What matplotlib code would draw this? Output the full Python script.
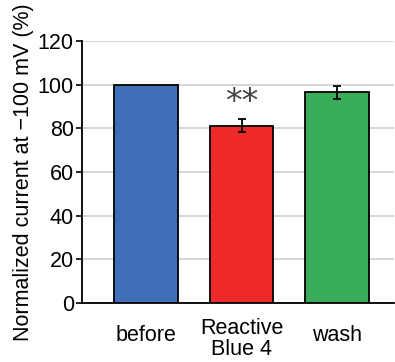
import matplotlib.pyplot as plt
import matplotlib.transforms as mtransforms
import numpy as np

plt.rcParams['font.family'] = ['Liberation Sans', 'DejaVu Sans']

# data
conditions = ['before', 'Reactive\nBlue 4', 'wash']
values = [100, 81.2, 96.5]
errors = [0, 3.0, 3.0]
colors = ['#3f6fb8', '#ee2a2a', '#3aad5a']

fig = plt.figure(figsize=(3.95, 3.62), dpi=100)
ax = fig.add_axes([0.208, 0.163, 0.79, 0.724])

x = np.arange(len(conditions))
ax.bar(x, values, width=0.667, color=colors, edgecolor='black', linewidth=1.3, zorder=3)
for xi, v, e in zip(x, values, errors):
    if e > 0:
        ax.errorbar(xi, v, yerr=e, fmt='none', ecolor='black', elinewidth=1.3,
                    capsize=3, capthick=1.3, zorder=4)

ax.text(1, 92, '**', ha='center', va='center', fontsize=24, color='#444444',
        family='DejaVu Sans')

ax.set_ylim(0, 120)
ax.set_xlim(-0.67, 2.6)
ax.set_yticks(range(0, 121, 20))
ax.yaxis.grid(True, color='#d0d0d0', linewidth=1.2, zorder=0)
ax.set_xticks(x)
ax.set_xticklabels(conditions, fontsize=15.5, linespacing=1.0)
ax.tick_params(axis='x', length=0, pad=11)
ax.tick_params(axis='y', labelsize=15.5, length=4, width=1.2, pad=2)
for s in ['top', 'right']:
    ax.spines[s].set_visible(False)
for s in ['left', 'bottom']:
    ax.spines[s].set_linewidth(1.3)
ax.set_ylabel('Normalized current at \u2212100 mV (%)', fontsize=15.5, labelpad=3)

# single-line labels sit a bit lower, like the original
shift = mtransforms.ScaledTranslation(0, -5 / 72, fig.dpi_scale_trans)
for i, lab in enumerate(ax.get_xticklabels()):
    if '\n' not in conditions[i]:
        lab.set_transform(lab.get_transform() + shift)

fig.savefig('out.png')
